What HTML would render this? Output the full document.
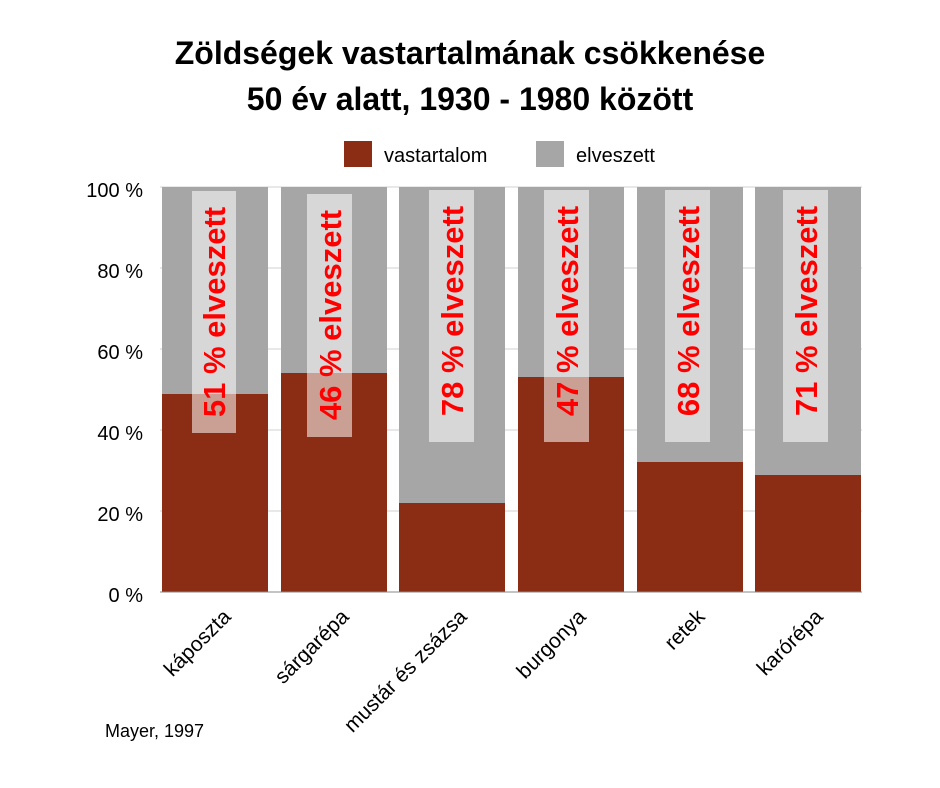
<!DOCTYPE html>
<html><head><meta charset="utf-8"><style>body{margin:0;background:#fff}svg{display:block}</style></head><body>
<svg width="940" height="788" xmlns="http://www.w3.org/2000/svg" font-family="Liberation Sans, Arial, sans-serif">
<text x="470" y="64" font-size="32" font-weight="bold" text-anchor="middle">Zöldségek vastartalmának csökkenése</text>
<text x="470" y="110" font-size="32" font-weight="bold" text-anchor="middle">50 év alatt, 1930 - 1980 között</text>
<rect x="344" y="141" width="28" height="26" fill="#8b2d15"/>
<text x="384" y="162" font-size="20">vastartalom</text>
<rect x="536" y="141" width="28" height="26" fill="#a6a6a6"/>
<text x="576" y="162" font-size="20">elveszett</text>
<g stroke="#d0d0d0" stroke-width="1">
<line x1="160" y1="187" x2="862" y2="187"/><line x1="160" y1="268" x2="862" y2="268"/><line x1="160" y1="349" x2="862" y2="349"/><line x1="160" y1="430" x2="862" y2="430"/><line x1="160" y1="511" x2="862" y2="511"/>
</g>
<g font-size="20" text-anchor="end">
<text x="143" y="197">100 %</text><text x="143" y="278">80 %</text><text x="143" y="359">60 %</text><text x="143" y="440">40 %</text><text x="143" y="521">20 %</text><text x="143" y="602">0 %</text>
</g>
<g fill="#a6a6a6">
<rect x="162" y="187" width="106" height="405"/><rect x="281" y="187" width="106" height="405"/><rect x="399" y="187" width="106" height="405"/><rect x="518" y="187" width="106" height="405"/><rect x="637" y="187" width="106" height="405"/><rect x="755" y="187" width="106" height="405"/>
</g>
<g fill="#8b2d15">
<rect x="162" y="394" width="106" height="198"/><rect x="281" y="373" width="106" height="219"/><rect x="399" y="503" width="106" height="89"/><rect x="518" y="377" width="106" height="215"/><rect x="637" y="462" width="106" height="130"/><rect x="755" y="475" width="106" height="117"/>
</g>
<line x1="160" y1="592" x2="862" y2="592" stroke="#888"/>
<g fill="#fff" fill-opacity="0.55">
<rect x="192" y="191" width="44" height="242"/><rect x="307" y="194" width="45" height="243"/><rect x="429" y="190" width="45" height="252"/><rect x="544" y="190" width="45" height="252"/><rect x="665" y="190" width="45" height="252"/><rect x="783" y="190" width="45" height="252"/>
</g>
<g fill="#ff0000" font-size="31" font-weight="bold" text-anchor="middle">
<text transform="translate(225,312) rotate(-90)">51 % elveszett</text>
<text transform="translate(341,315) rotate(-90)">46 % elveszett</text>
<text transform="translate(463,311) rotate(-90)">78 % elveszett</text>
<text transform="translate(578,311) rotate(-90)">47 % elveszett</text>
<text transform="translate(699,311) rotate(-90)">68 % elveszett</text>
<text transform="translate(817,311) rotate(-90)">71 % elveszett</text>
</g>
<g font-size="21" text-anchor="end">
<text transform="translate(232,618) rotate(-45)">káposzta</text>
<text transform="translate(350,618) rotate(-45)">sárgarépa</text>
<text transform="translate(468,618) rotate(-45)">mustár és zsázsa</text>
<text transform="translate(587,618) rotate(-45)">burgonya</text>
<text transform="translate(706,618) rotate(-45)">retek</text>
<text transform="translate(824,618) rotate(-45)">karórépa</text>
</g>
<text x="105" y="737" font-size="18">Mayer, 1997</text>
</svg>
</body></html>
